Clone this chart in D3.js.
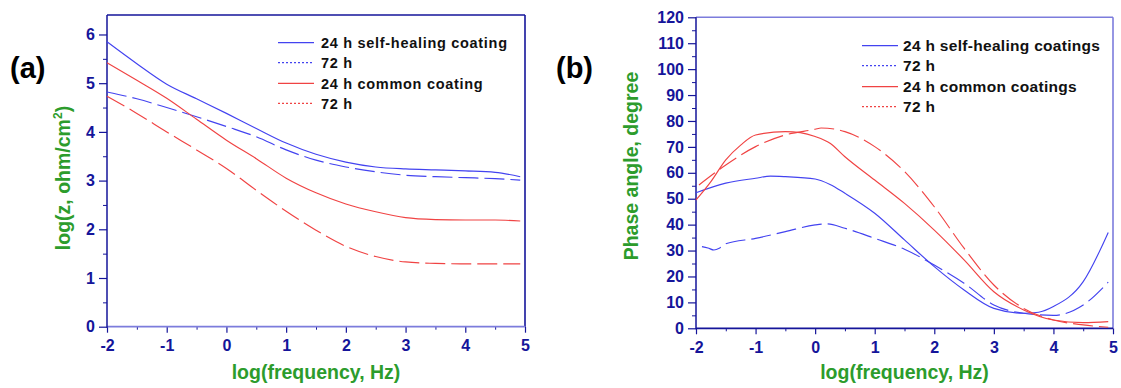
<!DOCTYPE html>
<html><head><meta charset="utf-8">
<script src="https://cdn.jsdelivr.net/npm/d3@7"></script>
<style>body{margin:0;background:#fff}</style></head>
<body><svg id="c" width="1121" height="388"></svg>
<script>
// ---------- data ----------
const xTicks = [-2,-1,0,1,2,3,4,5];
const impTicks = [0,1,2,3,4,5,6];
const phaseTicks = [0,10,20,30,40,50,60,70,80,90,100,110,120];

const impX = [-2,-1.5,-1,-0.5,0,0.5,1,1.5,2,2.5,3,3.5,4,4.5,4.92];
const impSelf24   = [5.85,5.40,4.98,4.68,4.38,4.07,3.77,3.54,3.38,3.28,3.24,3.22,3.20,3.17,3.08];
const impSelf72   = [4.82,4.68,4.50,4.31,4.11,3.90,3.63,3.42,3.28,3.18,3.11,3.08,3.06,3.04,3.01];
const impCommon24 = [5.42,5.06,4.69,4.26,3.83,3.45,3.05,2.75,2.52,2.36,2.24,2.20,2.19,2.19,2.17];
const impCommon72 = [4.73,4.38,4.00,3.63,3.25,2.80,2.37,1.98,1.65,1.44,1.33,1.30,1.29,1.29,1.29];

const phSelf24X = [-2,-1.5,-1,-0.75,-0.5,0,0.25,0.5,1,1.5,2,2.5,3,3.5,3.75,4,4.5,4.92];
const phSelf24  = [52.3,56,57.9,58.7,58.5,57.6,55.5,52.1,44.4,34.1,23.8,14.8,7.7,5.8,6.2,8.4,18,37];
const phSelf72X = [-1.9,-1.8,-1.7,-1.6,-1.5,-1,-0.5,0,0.2,0.5,1,1.5,2,2.5,3,3.5,4,4.5,4.92];
const phSelf72  = [31.5,31.0,30.2,31.0,32.6,34.7,37.3,39.9,40.3,38.6,34.7,30.5,24.4,17.4,9.0,5.8,5.0,9.0,17.8];
const phCommon24X = [-2,-1.75,-1.5,-1.25,-1,-0.5,-0.25,0,0.25,0.5,1,1.5,2,2.5,3,3.5,4,4.5,4.92];
const phCommon24  = [49.5,56.6,65,70.7,74.6,75.9,75.5,74.0,71.4,66.2,57.2,48.2,37.9,26.4,14.1,7.1,3.2,2.2,2.6];
const phCommon72X = [-1.95,-1.5,-1,-0.5,0,0.1,0.5,1,1.5,2,2.5,3,3.5,4,4.5,4.92];
const phCommon72  = [55.3,63,70.1,74.6,76.8,77.3,75.9,70.1,60.5,46.9,30.9,16.7,7.7,3.2,1.3,0.4];

const legendA = ["24 h self-healing coating","72 h","24 h common coating","72 h"];
const legendB = ["24 h self-healing coatings","72 h","24 h common coatings","72 h"];

// ---------- drawing ----------
const svg = d3.select("#c");
const FONT = "Arial, 'Liberation Sans', sans-serif";
const NAVY = "#15159a", LIGHT = "#7c7cdc", GREEN = "#2c9c2c";
const BLUE = "#4343f0", RED = "#f04343";

function panel(o) {
  const x = d3.scaleLinear().domain([-2,5]).range([o.l,o.r]);
  const y = d3.scaleLinear().domain([0,o.ymax]).range([o.b,o.t]);
  const g = svg.append("g");

  // minor ticks
  g.append("g").attr("transform",`translate(${o.l},0)`)
    .call(d3.axisLeft(y).tickValues(o.yMinor).tickSize(4).tickFormat(""))
    .call(s=>{s.select(".domain").remove(); s.selectAll("line").attr("stroke",NAVY);});
  g.append("g").attr("transform",`translate(0,${o.b})`)
    .call(d3.axisBottom(x).tickValues(d3.range(-1.5,5,1)).tickSize(3).tickFormat(""))
    .call(s=>{s.select(".domain").remove(); s.selectAll("line").attr("stroke",NAVY);});

  const styleText = s=>s.selectAll("text").attr("fill",NAVY).attr("font-family",FONT)
      .attr("font-weight","bold").attr("font-size",16);
  // major
  g.append("g").attr("transform",`translate(${o.l},0)`)
    .call(d3.axisLeft(y).tickValues(o.yTicks).tickSize(8).tickPadding(4).tickFormat(d=>d))
    .call(s=>{s.select(".domain").remove(); s.selectAll("line").attr("stroke",NAVY).attr("stroke-width",1.2); styleText(s);});
  g.append("g").attr("transform",`translate(0,${o.b})`)
    .call(d3.axisBottom(x).tickValues(xTicks).tickSize(6).tickPadding(7).tickFormat(d=>d))
    .call(s=>{s.select(".domain").remove(); s.selectAll("line").attr("stroke",NAVY).attr("stroke-width",1.2); styleText(s);});

  // frame
  g.append("line").attr("x1",o.l).attr("x2",o.r).attr("y1",o.t).attr("y2",o.t).attr("stroke",o.topC).attr("stroke-width",1.6);
  g.append("line").attr("x1",o.r).attr("x2",o.r).attr("y1",o.t).attr("y2",o.b).attr("stroke",o.topC).attr("stroke-width",1.6);
  g.append("line").attr("x1",o.l).attr("x2",o.r).attr("y1",o.b).attr("y2",o.b).attr("stroke",o.botC).attr("stroke-width",1.8);
  g.append("line").attr("x1",o.l).attr("x2",o.l).attr("y1",o.t).attr("y2",o.b+1).attr("stroke",NAVY).attr("stroke-width",1.5);

  // series
  const line = d3.line().x(d=>x(d[0])).y(d=>y(d[1])).curve(d3.curveMonotoneX);
  o.series.forEach(s=>{
    g.append("path").datum(s.x.map((v,i)=>[v,s.y[i]])).attr("d",line)
      .attr("fill","none").attr("stroke",s.c).attr("stroke-width",1.15)
      .attr("stroke-dasharray",s.dash?"20,6":null);
  });

  // legend
  o.legend.forEach((t,i)=>{
    const yy = o.lg.y0 + o.lg.dy[i];
    const c = i<2?BLUE:RED;
    g.append("line").attr("x1",o.lg.x1).attr("x2",o.lg.x2).attr("y1",yy).attr("y2",yy)
      .attr("stroke",c).attr("stroke-width",1.3).attr("stroke-dasharray",i%2?"2,2":null);
    g.append("text").attr("x",o.lg.tx).attr("y",yy+5.5).text(t)
      .attr("font-family",FONT).attr("font-weight","bold").attr("font-size",o.lg.fs)
      .attr("letter-spacing",o.lg.ls).attr("fill","#111");
  });

  // titles
  g.append("text").attr("x",(o.l+o.r)/2).attr("y",379).attr("text-anchor","middle")
    .attr("font-family",FONT).attr("font-weight","bold").attr("font-size",19.5).attr("fill",GREEN)
    .text("log(frequency, Hz)");
  const yt = g.append("text").attr("transform",`translate(${o.ytx},${o.yty}) rotate(-90)`).attr("text-anchor","middle")
    .attr("font-family",FONT).attr("font-weight","bold").attr("font-size",19.5).attr("fill",GREEN);
  o.ytitle(yt);
  g.append("text").attr("x",o.px).attr("y",78).text(o.plabel)
    .attr("font-family",FONT).attr("font-weight","bold").attr("font-size",29).attr("fill","#000");
}

panel({
  l:107, r:525, t:15, b:326.7, ymax:6.4,
  yTicks: impTicks, yMinor: d3.range(0.5,6.5,1),
  topC: NAVY, botC: LIGHT,
  series: [
    {x:impX,y:impSelf24,c:BLUE},
    {x:impX,y:impSelf72,c:BLUE,dash:true},
    {x:impX,y:impCommon24,c:RED},
    {x:impX,y:impCommon72,c:RED,dash:true}
  ],
  legend: legendA,
  lg:{x1:278,x2:314,tx:321,y0:42.7,dy:[0,20,40.6,60.6],fs:14.5,ls:0.7},
  ytx:70, yty:178,
  ytitle: t=>{ t.append("tspan").text("log(z, ohm/cm");
    t.append("tspan").text("2").attr("font-size",12).attr("dy",-8);
    t.append("tspan").text(")").attr("dy",8); },
  px:10, plabel:"(a)"
});

panel({
  l:696, r:1113, t:17.3, b:328.3, ymax:120,
  yTicks: phaseTicks, yMinor: d3.range(5,120,10),
  topC: LIGHT, botC: NAVY,
  series: [
    {x:phSelf24X,y:phSelf24,c:BLUE},
    {x:phSelf72X,y:phSelf72,c:BLUE,dash:true},
    {x:phCommon24X,y:phCommon24,c:RED},
    {x:phCommon72X,y:phCommon72,c:RED,dash:true}
  ],
  legend: legendB,
  lg:{x1:862,x2:898,tx:903,y0:45.7,dy:[0,20,41,61],fs:15.5,ls:0.3},
  ytx:638, yty:166,
  ytitle: t=>t.text("Phase angle, degree"),
  px:556, plabel:"(b)"
});
</script></body></html>
